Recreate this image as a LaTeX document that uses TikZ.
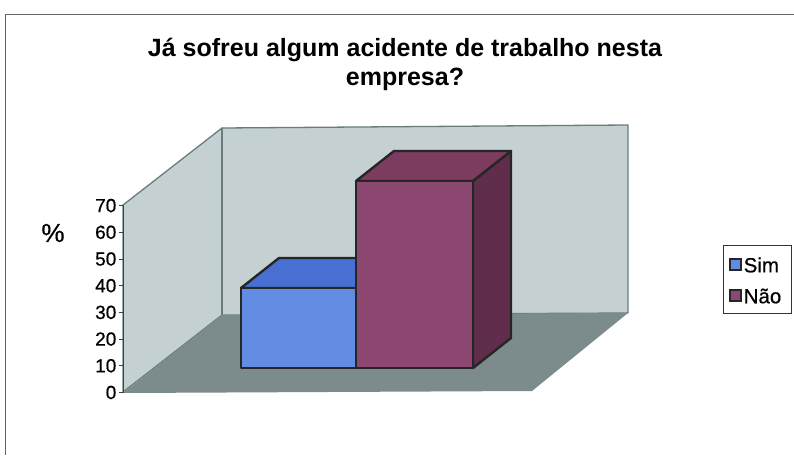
\documentclass[tikz,border=0pt]{standalone}
\usepackage{fontspec}
\setmainfont{Liberation Sans}
\newfontfamily\labfont[FakeBold=0.5]{Liberation Sans}
\definecolor{wallc}{RGB}{196,208,210}
\definecolor{floorc}{RGB}{124,140,140}
\definecolor{edgec}{RGB}{105,125,125}
\definecolor{blueF}{RGB}{98,140,226}
\definecolor{blueT}{RGB}{72,112,210}
\definecolor{purF}{RGB}{140,72,112}
\definecolor{purT}{RGB}{124,60,96}
\definecolor{purS}{RGB}{96,46,76}
\definecolor{framec}{RGB}{100,100,100}
\tikzset{
  wall/.style={fill=wallc,draw=edgec,line width=1.3pt,line join=round},
  barface/.style={draw=black!85,line width=2.4pt,line join=round},
  ylab/.style={anchor=east,inner sep=0pt,font=\labfont\fontsize{19}{21}\selectfont},
  titletext/.style={anchor=base,inner sep=0pt,font=\fontsize{25}{30}\selectfont\bfseries},
  legtext/.style={anchor=west,inner sep=0pt,font=\labfont\fontsize{20.5}{23}\selectfont},
  legsq/.style={draw=black!85,line width=1.6pt}
}
\begin{document}
\begin{tikzpicture}[x=1pt,y=-1pt]
\useasboundingbox (0,0) rectangle (794,455);
\fill[white] (0,0) rectangle (794,455);
% outer frame
\draw[framec,line width=1pt] (5,455) -- (5,14) -- (794,14);
% title
\node[titletext] (t1) at (405,56) {Já sofreu algum acidente de trabalho nesta};
\node[titletext] (t2) at (405,85) {empresa?};
% walls
\draw[wall] (123,205) -- (222,128) -- (222,315) -- (123,392) -- cycle;
\draw[wall] (222,128) -- (628,125) -- (628,313) -- (222,315) -- cycle;
\fill[floorc] (123,393) -- (222,315) -- (628,313) -- (532,391) -- cycle;
\draw[edgec,line width=1.3pt] (222,128) -- (222,315);
% axis
\draw[black!75,line width=1pt] (123,205) -- (123,393);
\foreach \v [count=\i from 0] in {0,10,20,30,40,50,60,70}{
  \pgfmathsetmacro{\yy}{392.5-26.7*\i}
  \draw[black!75,line width=1pt] (119,\yy) -- (123,\yy);
  \node[ylab] (y\v) at (116.5,\yy) {\v};
}
\node[anchor=center,inner sep=0pt,font=\labfont\fontsize{26}{30}\selectfont] (pct) at (53,233) {\%};
% blue bar
\draw[barface,fill=blueT] (241,288) -- (279,258) -- (395,258) -- (357,288) -- cycle;
\draw[barface,fill=blueF] (241,288) rectangle (357,368);
% purple bar
\draw[barface,fill=purS] (473,181) -- (511,151) -- (511,338) -- (473,368) -- cycle;
\draw[barface,fill=purT] (356,181) -- (394,151) -- (511,151) -- (473,181) -- cycle;
\draw[barface,fill=purF] (356,181) rectangle (473,368);
% legend
\draw[black!80,line width=1pt,fill=white] (723,245) rectangle (791,313);
\draw[legsq,fill=blueF] (730,259) rectangle (741,270);
\node[legtext] (lsim) at (743.5,265) {Sim};
\draw[legsq,fill=purF] (730,290) rectangle (741,301);
\node[legtext] (lnao) at (743.5,296) {Não};
\end{tikzpicture}
\end{document}
